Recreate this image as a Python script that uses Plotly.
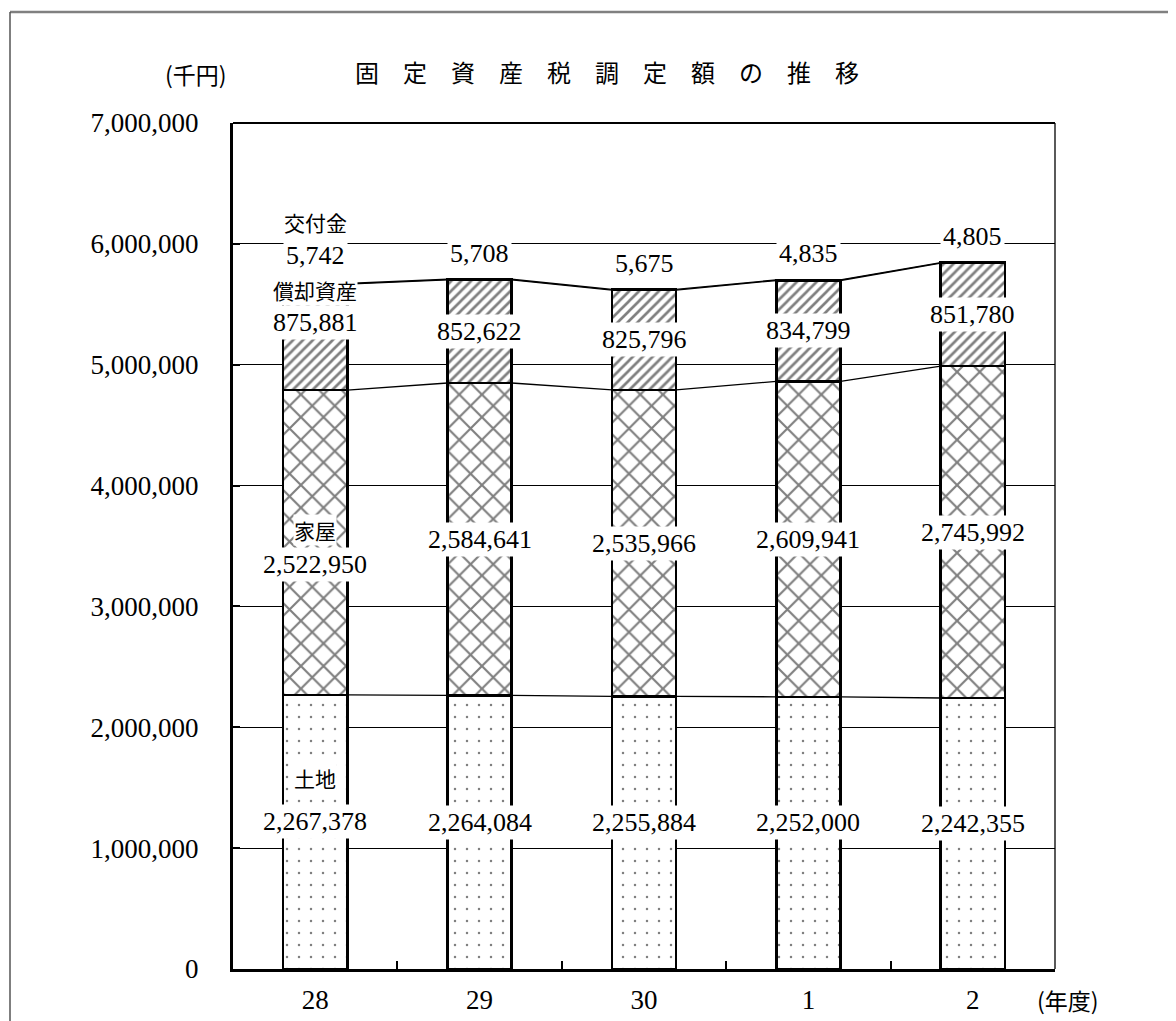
import plotly.graph_objects as go

# ---------------- data ----------------
years = ["28", "29", "30", "1", "2"]
series_names = ["土地", "家屋", "償却資産", "交付金"]
land = [2267378, 2264084, 2255884, 2252000, 2242355]
house = [2522950, 2584641, 2535966, 2609941, 2745992]
depreciable = [875881, 852622, 825796, 834799, 851780]
grant = [5742, 5708, 5675, 4835, 4805]
y_ticks = [0, 1000000, 2000000, 3000000, 4000000, 5000000, 6000000, 7000000]

title_text = "固　定　資　産　税　調　定　額　の　推　移"
unit_text = "(千円)"
xunit_text = "(年度)"

# ---------------- style ----------------
OFF = 8  # page body margin
W, H = 1176 - OFF, 1021 - OFF
ML, MT = 233 - OFF, 123 - OFF
MR = W - (1055 - OFF)
MB = H - (969 - OFF)
PW, PH = W - ML - MR, H - MT - MB
BAR_W = 0.39
FONT = "Liberation Serif, Noto Sans CJK JP, serif"
JFONT = "Noto Sans CJK JP, Liberation Serif, sans-serif"

patterns = [
    dict(shape=".", size=12, solidity=0.035, fgcolor="black", bgcolor="white"),
    dict(shape="x", size=16, solidity=0.25, fgcolor="black", bgcolor="white"),
    dict(shape="/", size=7, solidity=0.38, fgcolor="black", bgcolor="white"),
    dict(shape="/", size=7, solidity=0.38, fgcolor="black", bgcolor="white"),
]

stack = [land, house, depreciable, grant]

fig = go.Figure()
for name, vals, pat in zip(series_names, stack, patterns):
    fig.add_trace(go.Bar(
        x=years, y=vals, name=name, width=BAR_W,
        marker=dict(color="white", pattern=pat,
                    line=dict(color="black", width=2.5)),
        hoverinfo="skip", showlegend=False,
    ))

# series lines between bars (on overlaid numeric axis)
n = len(years)
cum = [0] * n
for vals in stack:
    cum = [c + v for c, v in zip(cum, vals)]
    xs, ys = [], []
    for i in range(n - 1):
        xs += [i + BAR_W / 2, i + 1 - BAR_W / 2, None]
        ys += [cum[i], cum[i + 1], None]
    fig.add_trace(go.Scatter(
        x=xs, y=ys, xaxis="x2", mode="lines",
        line=dict(color="black", width=1.3),
        hoverinfo="skip", showlegend=False,
    ))

# ---------------- labels ----------------
ann = []
value_shift = [10, 0, 0, 26]          # px shift of values for each series
first_value_shift = [10, -22, 15, 28]  # first category values
first_name_shift = [54, 13, 47, 62]    # first category series names
base = [0] * n
for s, vals in enumerate(stack):
    for i in range(n):
        if s < 3:
            yc = base[i] + vals[i] / 2
        else:
            yc = base[i] + vals[i]
        shift = first_value_shift[s] if i == 0 else value_shift[s]
        ann.append(dict(
            x=i, y=yc, xref="x2", yref="y", yshift=shift,
            xanchor="center", yanchor="middle",
            text=f"{vals[i]:,}", showarrow=False,
            font=dict(family=FONT, size=26, color="black"),
            bgcolor="white", borderpad=2,
        ))
        if i == 0:
            ann.append(dict(
                x=i, y=yc, xref="x2", yref="y", yshift=first_name_shift[s],
                xanchor="center", yanchor="middle",
                text=series_names[s], showarrow=False,
                font=dict(family=JFONT, size=21, color="black"),
                bgcolor="white", borderpad=0,
            ))
    base = [b + v for b, v in zip(base, vals)]


def px2paper_x(px):
    return (px - OFF - ML) / PW


def px2paper_y(py):
    return (H - MB - (py - OFF)) / PH


ann.append(dict(x=px2paper_x(607), y=px2paper_y(72), xref="paper", yref="paper",
                xanchor="center", yanchor="middle",
                text=title_text, showarrow=False,
                font=dict(family=JFONT, size=24, color="black")))
ann.append(dict(x=px2paper_x(196), y=px2paper_y(74), xref="paper", yref="paper",
                xanchor="center", yanchor="middle",
                text=unit_text, showarrow=False,
                font=dict(family=JFONT, size=23, color="black")))
ann.append(dict(x=px2paper_x(1068), y=px2paper_y(1000), xref="paper", yref="paper",
                xanchor="center", yanchor="middle",
                text=xunit_text, showarrow=False,
                font=dict(family=JFONT, size=23, color="black")))

shapes = [
    # outer border (top and left)
    dict(type="line", xref="paper", yref="paper",
         x0=px2paper_x(10), x1=px2paper_x(1200), y0=px2paper_y(12), y1=px2paper_y(12),
         line=dict(color="#808080", width=2.5)),
    dict(type="line", xref="paper", yref="paper",
         x0=px2paper_x(10), x1=px2paper_x(10), y0=px2paper_y(12), y1=px2paper_y(1040),
         line=dict(color="#555555", width=1.5)),
    # plot frame top and right
    dict(type="line", xref="paper", yref="paper", x0=0, x1=1, y0=1, y1=1,
         line=dict(color="black", width=2)),
    dict(type="line", xref="paper", yref="paper", x0=1, x1=1, y0=0, y1=1,
         line=dict(color="black", width=1.3)),
]

fig.update_layout(
    width=W, height=H, autosize=False,
    margin=dict(l=ML, r=MR, t=MT, b=MB, pad=0, autoexpand=False),
    paper_bgcolor="white", plot_bgcolor="white",
    barmode="stack", bargap=0.6,
    font=dict(family=FONT, size=27, color="black"),
    xaxis=dict(type="category", categoryorder="array", categoryarray=years,
               range=[-0.5, n - 0.5], tickson="boundaries",
               ticks="inside", ticklen=8, tickwidth=2, tickcolor="black",
               showline=True, linecolor="black", linewidth=3,
               showgrid=False, ticklabelstandoff=5, automargin=False,
               tickfont=dict(family=FONT, size=27)),
    xaxis2=dict(overlaying="x", range=[-0.5, n - 0.5], visible=False),
    yaxis=dict(range=[0, 7000000], tickvals=y_ticks, tickformat=",",
               ticks="inside", ticklen=7, tickwidth=2, tickcolor="black",
               showline=True, linecolor="black", linewidth=3,
               showgrid=True, gridcolor="black", gridwidth=1,
               zeroline=False, ticklabelstandoff=26, automargin=False,
               tickfont=dict(family=FONT, size=27)),
    annotations=ann,
    shapes=shapes,
)

fig.write_html("out.html")
